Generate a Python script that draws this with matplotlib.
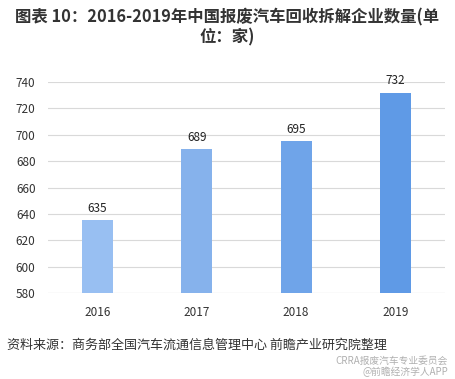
import matplotlib
matplotlib.use("Agg")
import matplotlib.pyplot as plt

plt.rcParams['font.family'] = ['Noto Sans CJK SC', 'DejaVu Sans']

years = ["2016", "2017", "2018", "2019"]
counts = [635, 689, 695, 732]
bar_colors = ["#98BFF2", "#86B2EC", "#6FA4E9", "#5F9AE6"]
yticks = [580, 600, 620, 640, 660, 680, 700, 720, 740]

fig = plt.figure(figsize=(4.55, 3.79), dpi=100)
ax = fig.add_axes([0.1055, 0.2269, 0.8725, 0.5567])

x = list(range(len(years)))
ax.bar(x, counts, width=0.31, color=bar_colors, zorder=3)
ax.set_ylim(580, 740)
ax.set_xlim(-0.5, len(years) - 0.5)
ax.set_yticks(yticks)
ax.set_xticks(x)
ax.set_xticklabels(years)
ax.yaxis.grid(True, color="#D9D9D9", linewidth=0.8, zorder=0)
for s in ax.spines.values():
    s.set_visible(False)
ax.tick_params(axis="both", length=0, labelsize=8.5, colors="#333333")
ax.tick_params(axis="y", pad=9)
ax.tick_params(axis="x", pad=9)
ax.axhline(580, color="#D9D9D9", linewidth=0.8, zorder=1)

for xi, v in zip(x, counts):
    ax.text(xi, v + 4, str(v), ha="center", va="bottom", fontsize=8.5, color="#222222")

fig.text(0.5, 0.955, "图表 10：2016-2019年中国报废汽车回收拆解企业数量(单", ha="center",
         va="center", fontsize=11.8, fontweight="bold", color="#333333")
fig.text(0.5, 0.902, "位：家)", ha="center", va="center", fontsize=11.8,
         fontweight="bold", color="#333333")

fig.text(0.016, 0.09, "资料来源：商务部全国汽车流通信息管理中心 前瞻产业研究院整理",
         ha="left", va="center", fontsize=9.4, color="#333333")
fig.text(0.985, 0.048, "CRRA报废汽车专业委员会", ha="right", va="center",
         fontsize=7, color="#B0B0B0")
fig.text(0.985, 0.02, "@前瞻经济学人APP", ha="right", va="center",
         fontsize=7, color="#B0B0B0")

fig.savefig("out.png", dpi=100, facecolor="white")
